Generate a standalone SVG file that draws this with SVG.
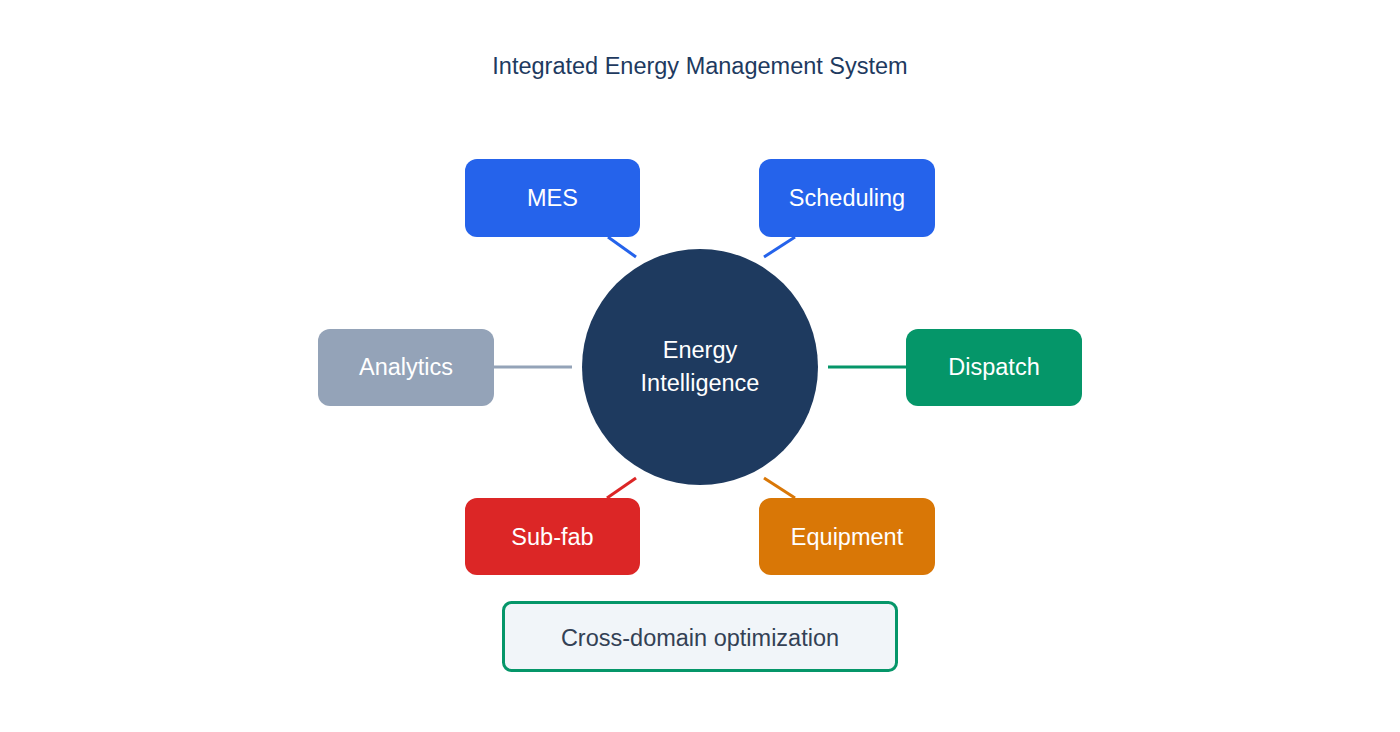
<svg xmlns="http://www.w3.org/2000/svg" width="1400" height="732" viewBox="0 0 1400 732">
<style>
text{font-family:"Liberation Sans",Arial,sans-serif;text-anchor:middle;dominant-baseline:central;font-size:23.5px}
.lbl{fill:#ffffff}
.box{rx:12;ry:12}
.conn line{stroke-width:3;stroke-linecap:butt}
</style>
<rect width="1400" height="732" fill="#ffffff"/>
<text x="700" y="66" fill="#1e3a5f">Integrated Energy Management System</text>
<g id="connectors" class="conn">
<line x1="608" y1="237" x2="636" y2="257" stroke="#2563eb"/>
<line x1="795" y1="237" x2="764" y2="257" stroke="#2563eb"/>
<line x1="494" y1="367" x2="572" y2="367" stroke="#94a3b8"/>
<line x1="828" y1="367" x2="906" y2="367" stroke="#059669"/>
<line x1="636" y1="478" x2="607" y2="498" stroke="#dc2626"/>
<line x1="764" y1="478" x2="795" y2="498" stroke="#d97706"/>
</g>
<g id="center">
<circle cx="700" cy="367" r="118" fill="#1e3a5f"/>
<text x="700" y="350" fill="#ffffff">Energy</text>
<text x="700" y="383" fill="#ffffff">Intelligence</text>
</g>
<g id="mes"><rect class="box" x="465" y="159" width="175" height="78" fill="#2563eb"/><text class="lbl" x="552.5" y="198">MES</text></g>
<g id="scheduling"><rect class="box" x="759" y="159" width="176" height="78" fill="#2563eb"/><text class="lbl" x="847" y="198">Scheduling</text></g>
<g id="analytics"><rect class="box" x="318" y="329" width="176" height="77" fill="#94a3b8"/><text class="lbl" x="406" y="367">Analytics</text></g>
<g id="dispatch"><rect class="box" x="906" y="329" width="176" height="77" fill="#059669"/><text class="lbl" x="994" y="367">Dispatch</text></g>
<g id="subfab"><rect class="box" x="465" y="498" width="175" height="77" fill="#dc2626"/><text class="lbl" x="552.5" y="537">Sub-fab</text></g>
<g id="equipment"><rect class="box" x="759" y="498" width="176" height="77" fill="#d97706"/><text class="lbl" x="847" y="537">Equipment</text></g>
<g id="optimization"><rect x="503.5" y="602.5" width="393" height="68" rx="8" ry="8" fill="#f1f5f9" stroke="#059669" stroke-width="3"/><text x="700" y="638" fill="#334155">Cross-domain optimization</text></g>
</svg>
